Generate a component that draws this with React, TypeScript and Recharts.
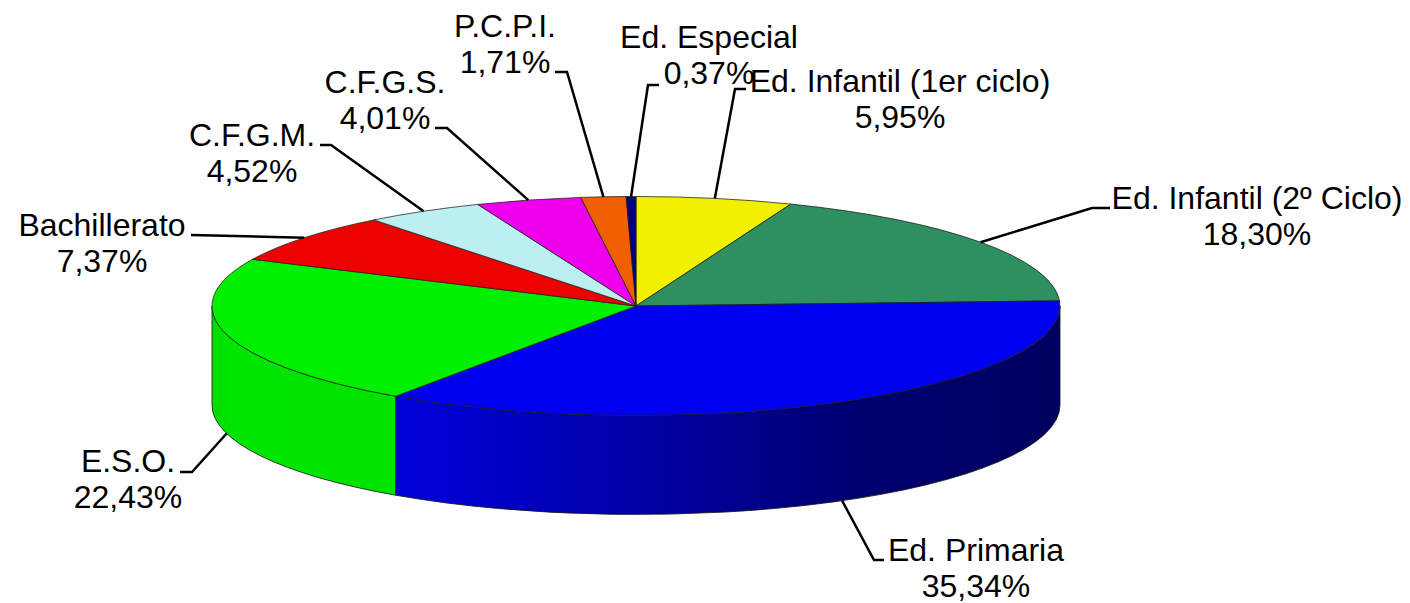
import { Pie, PieChart } from "recharts";

const WIDTH = 1410;
const HEIGHT = 603;

const CATEGORIES = [
  "Ed. Infantil (1er ciclo)",
  "Ed. Infantil (2º Ciclo)",
  "Ed. Primaria",
  "E.S.O.",
  "Bachillerato",
  "C.F.G.M.",
  "C.F.G.S.",
  "P.C.P.I.",
  "Ed. Especial",
];
const VALUES = [5.95, 18.3, 35.34, 22.43, 7.37, 4.52, 4.01, 1.71, 0.37];
const TOP_COLORS = [
  "#f0f000",
  "#2e8f60",
  "#0000f0",
  "#00f000",
  "#ee0000",
  "#bcefef",
  "#ee00ee",
  "#f06000",
  "#000080",
];
const WALL_COLORS = [
  "#c0c000",
  "#1f6f48",
  "url(#wall-blue)",
  "url(#wall-green)",
  "#b00000",
  "#90c0c0",
  "#b000b0",
  "#b04800",
  "#000060",
];

// where each callout goes: leader elbow, end of the leader, text centre, first baseline
const ELBOW_X = [735, 1092, 874, 192, 191, 331, 447, 567, 648];
const ELBOW_Y = [89, 208, 560, 472, 235, 145, 128, 72, 85];
const LEADER_END_X = [746, 1110, 884, 180, 191, 320, 435, 555, 659];
const TEXT_X = [900, 1257, 976, 128, 102, 252, 385, 505, 709];
const TEXT_Y = [92, 209, 561, 472, 236, 146, 93, 37, 48];

const rows = CATEGORIES.map((name, i) => ({ name, value: VALUES[i] }));

// the pie is a flat ellipse with a rim below it
const CX = 636;
const CY = 306;
const RX = 424;
const RY = 109.5;
const DEPTH = 99;

const RAD = Math.PI / 180;
const px = (deg: number) => CX + RX * Math.cos(deg * RAD);
const py = (deg: number) => CY - RY * Math.sin(deg * RAD);

function TopSlice(props: any) {
  const { startAngle, endAngle, index } = props;
  const large = Math.abs(startAngle - endAngle) > 180 ? 1 : 0;
  const d = `M${CX},${CY} L${px(startAngle)},${py(startAngle)} A${RX},${RY} 0 ${large} 1 ${px(endAngle)},${py(endAngle)} Z`;
  return <path d={d} fill={TOP_COLORS[index]} stroke="#1c1c1c" strokeWidth={1} strokeOpacity={0.75} />;
}

function WallSlice(props: any) {
  const { startAngle, endAngle, index } = props;
  // only the front half of the rim can be seen
  const from = Math.min(startAngle, 0);
  const to = Math.max(endAngle, -180);
  if (from <= to) return <g />;
  const d =
    `M${px(from)},${py(from)} A${RX},${RY} 0 0 1 ${px(to)},${py(to)} ` +
    `L${px(to)},${py(to) + DEPTH} A${RX},${RY} 0 0 0 ${px(from)},${py(from) + DEPTH} Z`;
  return <path d={d} fill={WALL_COLORS[index]} stroke="#1c1c1c" strokeWidth={1} strokeOpacity={0.85} />;
}

function Callout(props: any) {
  const { midAngle, index, value, name } = props;
  const deg = midAngle;
  const front = Math.sin(deg * RAD) < 0;
  const x0 = px(deg);
  const y0 = py(deg) + (front ? DEPTH : 0);
  const ex = ELBOW_X[index];
  const ey = ELBOW_Y[index];
  const pct = `${Number(value).toFixed(2).replace(".", ",")}%`;
  return (
    <g>
      <polyline
        points={`${x0},${y0} ${ex},${ey} ${LEADER_END_X[index]},${ey}`}
        fill="none"
        stroke="#000"
        strokeWidth={2.5}
      />
      <text
        x={TEXT_X[index]}
        y={TEXT_Y[index]}
        textAnchor="middle"
        fontFamily="'Liberation Sans', Arial, sans-serif"
        fontSize={32}
        fill="#000"
      >
        {name}
      </text>
      <text
        x={TEXT_X[index]}
        y={TEXT_Y[index] + 36}
        textAnchor="middle"
        fontFamily="'Liberation Sans', Arial, sans-serif"
        fontSize={32}
        fill="#000"
      >
        {pct}
      </text>
    </g>
  );
}

export default function App() {
  return (
    <div style={{ position: "absolute", left: 0, top: 0, width: WIDTH, height: HEIGHT, background: "#fff" }}>
      <PieChart width={WIDTH} height={HEIGHT} margin={{ top: 0, right: 0, bottom: 0, left: 0 }}>
        <defs>
          <linearGradient id="wall-blue" gradientUnits="userSpaceOnUse" x1={396} y1={0} x2={1060} y2={0}>
            <stop offset="0%" stopColor="#0000dc" />
            <stop offset="35%" stopColor="#0000a8" />
            <stop offset="70%" stopColor="#000070" />
            <stop offset="100%" stopColor="#000060" />
          </linearGradient>
          <linearGradient id="wall-green" gradientUnits="userSpaceOnUse" x1={212} y1={0} x2={396} y2={0}>
            <stop offset="0%" stopColor="#00dc00" />
            <stop offset="12%" stopColor="#00e600" />
            <stop offset="100%" stopColor="#00e200" />
          </linearGradient>
        </defs>
        <Pie
          data={rows}
          dataKey="value"
          nameKey="name"
          cx={CX}
          cy={CY}
          outerRadius={RX}
          startAngle={90}
          endAngle={-270}
          shape={WallSlice}
          label={false}
          labelLine={false}
          isAnimationActive={false}
        />
        <Pie
          data={rows}
          dataKey="value"
          nameKey="name"
          cx={CX}
          cy={CY}
          outerRadius={RX}
          startAngle={90}
          endAngle={-270}
          shape={TopSlice}
          label={Callout}
          labelLine={false}
          isAnimationActive={false}
        />
      </PieChart>
    </div>
  );
}
